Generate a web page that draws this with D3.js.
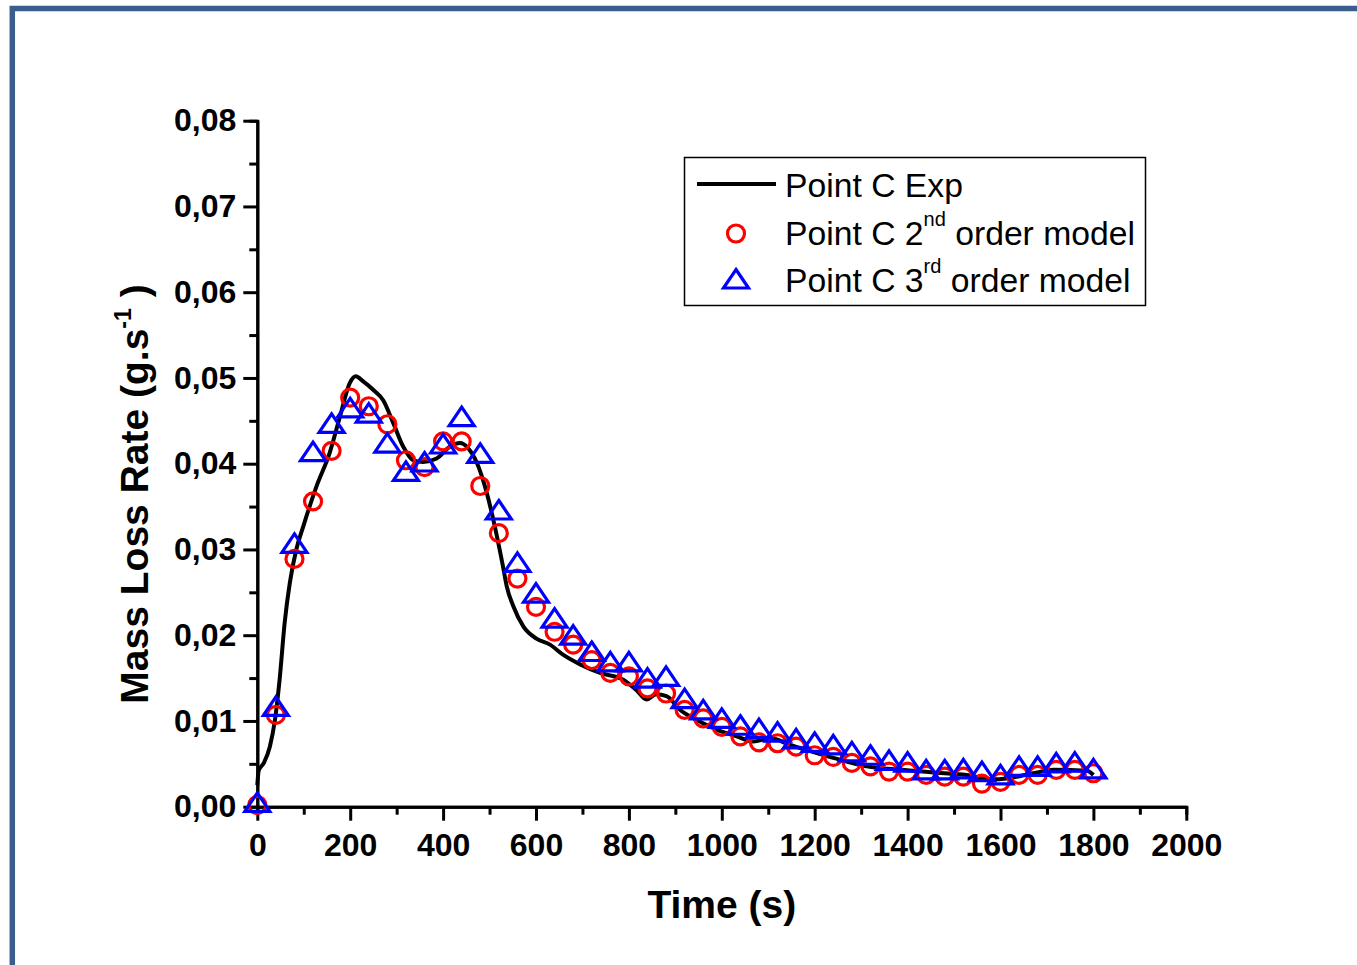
<!doctype html>
<html lang=en>
<head>
<meta charset=utf-8>
<title>Mass Loss Rate - Point C</title>
<script src="https://d3js.org/d3.v7.min.js"></script>
<style>
body{margin:0;background:#fff}
svg{display:block;font-family:"Liberation Sans",Arial,sans-serif}
</style>
</head>
<body>
<div id="container"></div>
<script>
// experimental curve (time in s, rate in g/s)
var expTime = [0,3,14,27,38,48,59,70,84,99,127,156,178,199,212,228,250,271,293,314,336,357,386,415,436,454,472,494,516,529,537,551,573,601,630,659,695,738,788,816,838,859,881,910,946,989,1032,1068,1104,1147,1183,1240,1312,1384,1455,1527,1584,1613,1671,1714,1786,1800];
var expRate = [0.0025,0.0042,0.0051,0.0070,0.0101,0.0148,0.0215,0.0261,0.0300,0.0327,0.0373,0.0413,0.0455,0.0494,0.0502,0.0496,0.0486,0.0474,0.0447,0.0420,0.0404,0.0402,0.0406,0.0420,0.0424,0.0418,0.0402,0.0366,0.0315,0.0280,0.0257,0.0234,0.0210,0.0196,0.0189,0.0177,0.0166,0.0156,0.0148,0.0136,0.0125,0.0131,0.0129,0.0113,0.0101,0.0090,0.0082,0.0076,0.0080,0.0072,0.0066,0.0057,0.0047,0.0043,0.0040,0.0037,0.0032,0.0033,0.0039,0.0043,0.0042,0.0037];

// model points
var modelTime = [0,40,80,120,160,200,240,280,320,360,400,440,480,520,560,600,640,680,720,760,800,840,880,920,960,1000,1040,1080,1120,1160,1200,1240,1280,1320,1360,1400,1440,1480,1520,1560,1600,1640,1680,1720,1760,1800];
var secondOrder = [0.0002,0.0107,0.0289,0.0356,0.0415,0.0477,0.0467,0.0446,0.0404,0.0396,0.0426,0.0426,0.0374,0.0319,0.0266,0.0233,0.0204,0.0189,0.0171,0.0156,0.0152,0.0138,0.0132,0.0113,0.0103,0.0093,0.0082,0.0075,0.0074,0.0070,0.0060,0.0058,0.0051,0.0047,0.0041,0.0041,0.0037,0.0035,0.0035,0.0027,0.0029,0.0037,0.0037,0.0043,0.0043,0.0039];
var thirdOrder = [0.0005,0.0117,0.0307,0.0414,0.0447,0.0465,0.0459,0.0424,0.0391,0.0402,0.0423,0.0455,0.0412,0.0346,0.0285,0.0249,0.0220,0.0200,0.0181,0.0169,0.0169,0.0150,0.0152,0.0126,0.0113,0.0103,0.0095,0.0091,0.0087,0.0079,0.0075,0.0072,0.0064,0.0060,0.0054,0.0052,0.0043,0.0043,0.0044,0.0041,0.0037,0.0047,0.0047,0.0051,0.0052,0.0044];

var xTicks = [0,200,400,600,800,1000,1200,1400,1600,1800,2000];
var yTicks = [0,0.01,0.02,0.03,0.04,0.05,0.06,0.07,0.08];
var legendLabels = ["Point C Exp", ["Point C 2", "nd", " order model"], ["Point C 3", "rd", " order model"]];

var w = 1357, h = 965;
var svg = d3.select("#container").append("svg").attr("width", w).attr("height", h);

// blue page frame
svg.append("rect").attr("x", 12.3).attr("y", 8.5).attr("width", 1400).attr("height", 1000)
    .attr("fill", "none").attr("stroke", "#3b5d8b").attr("stroke-width", 5.5);

var x = d3.scaleLinear().domain([0, 2000]).range([257.3, 1186.3]);
var y = d3.scaleLinear().domain([0, 0.08]).range([806.7, 120.7]);
var fmt = function(d) { return d3.format(".2f")(d).replace(".", ","); };

// minor ticks
svg.append("g").attr("transform", "translate(0,806.7)")
    .call(d3.axisBottom(x).tickValues(d3.range(100, 2000, 200)).tickSize(8).tickFormat(""));
svg.append("g").attr("transform", "translate(257.3,0)")
    .call(d3.axisLeft(y).tickValues(d3.range(0.005, 0.08, 0.01)).tickSize(8).tickFormat(""));

// major axes
svg.append("g").attr("transform", "translate(0,806.7)")
    .call(d3.axisBottom(x).tickValues(xTicks).tickFormat(d3.format("d")).tickSize(14).tickSizeOuter(0).tickPadding(13));
svg.append("g").attr("transform", "translate(257.3,0)")
    .call(d3.axisLeft(y).tickValues(yTicks).tickFormat(fmt).tickSize(14).tickSizeOuter(0).tickPadding(7));

svg.selectAll(".domain, .tick line").attr("stroke", "#000").attr("stroke-width", 3);
svg.selectAll(".tick text").attr("font-family", "Liberation Sans, Arial, sans-serif")
    .attr("font-size", 32).attr("font-weight", "bold").attr("fill", "#000");

// axis titles
svg.append("text").attr("x", 721.8).attr("y", 918).attr("text-anchor", "middle")
    .attr("font-size", 39).attr("font-weight", "bold").text("Time (s)");

var yt = svg.append("text").attr("transform", "translate(148,494) rotate(-90)")
    .attr("text-anchor", "middle").attr("font-size", 39).attr("font-weight", "bold");
yt.append("tspan").text("Mass Loss Rate (g.s");
yt.append("tspan").attr("dy", -17).attr("font-size", 23).text("-1");
yt.append("tspan").attr("dy", 17).text(" )");

// experimental line
var expData = expTime.map(function(t, i) { return [t, expRate[i]]; });
svg.append("path").datum(expData)
    .attr("fill", "none").attr("stroke", "#000").attr("stroke-width", 4)
    .attr("stroke-linejoin", "round")
    .attr("d", d3.line().x(function(d) { return x(d[0]); }).y(function(d) { return y(d[1]); }).curve(d3.curveMonotoneX));

var tri = "M0,-9.5L12.5,9L-12.5,9Z";

// 2nd order circles
svg.append("g").selectAll("circle").data(modelTime).enter().append("circle")
    .attr("cx", function(d) { return x(d); })
    .attr("cy", function(d, i) { return y(secondOrder[i]); })
    .attr("r", 8.5).attr("fill", "none").attr("stroke", "#ff0000").attr("stroke-width", 3.2);

// 3rd order triangles
svg.append("g").selectAll("path").data(modelTime).enter().append("path")
    .attr("transform", function(d, i) { return "translate(" + x(d) + "," + y(thirdOrder[i]) + ")"; })
    .attr("d", tri).attr("fill", "none").attr("stroke", "#0000ff").attr("stroke-width", 3.2);

// legend
var lg = svg.append("g");
lg.append("rect").attr("x", 684.5).attr("y", 157.5).attr("width", 461).attr("height", 148)
    .attr("fill", "#fff").attr("stroke", "#000").attr("stroke-width", 1.5);
lg.append("line").attr("x1", 697).attr("x2", 776).attr("y1", 184).attr("y2", 184)
    .attr("stroke", "#000").attr("stroke-width", 4);
lg.append("circle").attr("cx", 736).attr("cy", 233.5).attr("r", 8.5)
    .attr("fill", "none").attr("stroke", "#ff0000").attr("stroke-width", 3.2);
lg.append("path").attr("transform", "translate(736,279)").attr("d", tri)
    .attr("fill", "none").attr("stroke", "#0000ff").attr("stroke-width", 3.2);

var rowY = [196.5, 245, 291.5];
legendLabels.forEach(function(lab, i) {
    var t = lg.append("text").attr("x", 785).attr("y", rowY[i]).attr("font-size", 33.7);
    if (typeof lab === "string") { t.text(lab); return; }
    t.append("tspan").text(lab[0]);
    t.append("tspan").attr("dy", -19).attr("font-size", 20).text(lab[1]);
    t.append("tspan").attr("dy", 19).text(lab[2]);
});
</script>
</body>
</html>
